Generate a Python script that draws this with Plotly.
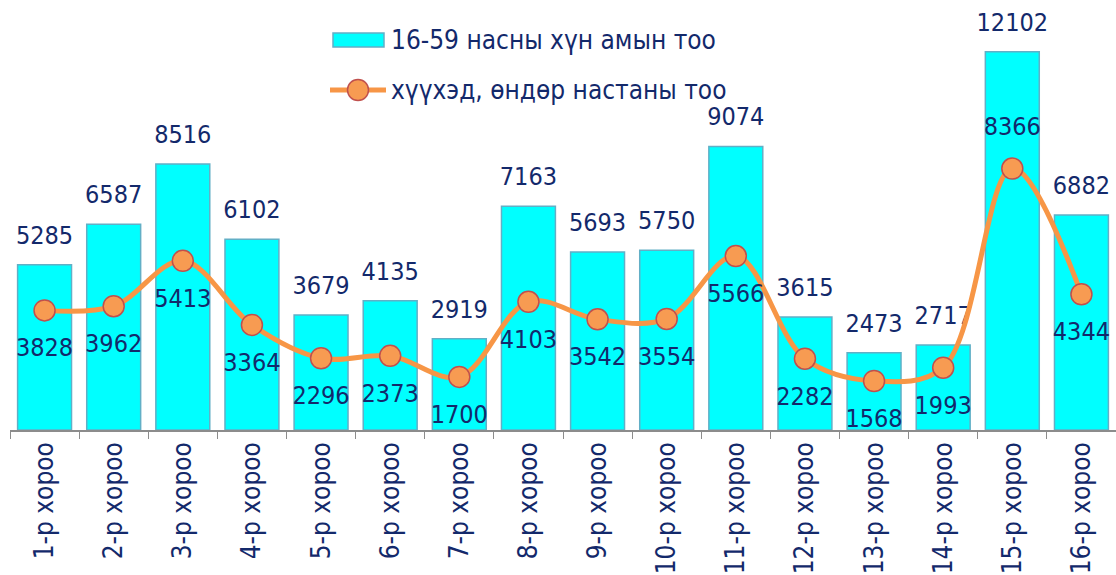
import plotly.graph_objects as go

categories = ["1-р хороо", "2-р хороо", "3-р хороо", "4-р хороо", "5-р хороо", "6-р хороо",
              "7-р хороо", "8-р хороо", "9-р хороо", "10-р хороо", "11-р хороо", "12-р хороо",
              "13-р хороо", "14-р хороо", "15-р хороо", "16-р хороо"]
working_age = [5285, 6587, 8516, 6102, 3679, 4135, 2919, 7163, 5693, 5750, 9074, 3615, 2473, 2717, 12102, 6882]
children_elderly = [3828, 3962, 5413, 3364, 2296, 2373, 1700, 4103, 3542, 3554, 5566, 2282, 1568, 1993, 8366, 4344]

bar_name = "16-59 насны хүн амын тоо"
line_name = "хүүхэд, өндөр настаны тоо"

FONT = "DejaVu Sans Condensed, DejaVu Sans, sans-serif"
TXT = "#13296B"
BAR_FILL = "#00FFFF"
BAR_EDGE = "#62AFC6"
LINE_C = "#F79646"
MK_FILL = "#F79B52"
MK_EDGE = "#C0504D"

W, H = 1116, 575
ML, MR, MT, MB = 10, 0, 0, 145
PW, PH = W - ML - MR, H - MT - MB

fig = go.Figure()
fig.add_trace(go.Bar(
    x=categories, y=working_age, name=bar_name,
    marker=dict(color=BAR_FILL, line=dict(color=BAR_EDGE, width=1.5)),
    showlegend=False,
))
fig.add_trace(go.Scatter(
    x=categories, y=working_age, mode="markers+text", text=[str(v) for v in working_age],
    textposition="top center", marker=dict(size=22, opacity=0),
    textfont=dict(family=FONT, size=25, color=TXT), showlegend=False, hoverinfo="skip",
    cliponaxis=False,
))
fig.add_trace(go.Scatter(
    x=categories, y=children_elderly, name=line_name, mode="lines+markers",
    line=dict(color=LINE_C, width=5, shape="spline", smoothing=1.0),
    marker=dict(size=21, color=MK_FILL, line=dict(color=MK_EDGE, width=1.5)),
    showlegend=False, cliponaxis=False,
))
top_idx = children_elderly.index(max(children_elderly))
line_pos = ["top center" if i == top_idx else "bottom center" for i in range(len(categories))]
fig.add_trace(go.Scatter(
    x=categories, y=children_elderly, mode="markers+text", text=[str(v) for v in children_elderly],
    textposition=line_pos, marker=dict(size=42, opacity=0),
    textfont=dict(family=FONT, size=25, color=TXT), showlegend=False, hoverinfo="skip",
    cliponaxis=False,
))

# manual legend (paper coordinates are relative to the plot area)
def px(x):
    return (x - ML) / PW

def py(y):
    return 1 - (y - MT) / PH

shapes = [
    dict(type="rect", xref="paper", yref="paper", x0=px(333), x1=px(384), y0=py(47), y1=py(33),
         fillcolor=BAR_FILL, line=dict(color=BAR_EDGE, width=1.5)),
    dict(type="line", xref="paper", yref="paper", x0=px(330), x1=px(386), y0=py(90), y1=py(90),
         line=dict(color=LINE_C, width=5)),
    dict(type="circle", xref="paper", yref="paper", x0=px(347.5), x1=px(368.5), y0=py(100.5), y1=py(79.5),
         fillcolor=MK_FILL, line=dict(color=MK_EDGE, width=1.5)),
]
annotations = [
    dict(text=bar_name, xref="paper", yref="paper", x=px(389), y=py(40), xanchor="left", yanchor="middle",
         showarrow=False, font=dict(family=FONT, size=26, color=TXT)),
    dict(text=line_name, xref="paper", yref="paper", x=px(389), y=py(90), xanchor="left", yanchor="middle",
         showarrow=False, font=dict(family=FONT, size=26, color=TXT)),
]

fig.update_layout(
    width=W, height=H,
    margin=dict(l=ML, r=MR, t=MT, b=MB, autoexpand=False),
    paper_bgcolor="white", plot_bgcolor="white",
    bargap=0.22,
    font=dict(family=FONT, size=24, color=TXT),
    showlegend=False,
    shapes=shapes, annotations=annotations,
)
fig.update_xaxes(
    range=[-0.5, len(categories) - 0.5],
    showline=True, linecolor="#8C8C8C", linewidth=1.5,
    ticks="outside", ticklen=7, tickcolor="#8C8C8C", tickson="boundaries",
    tickangle=-90, tickfont=dict(family=FONT, size=26, color=TXT),
    showgrid=False, automargin=False,
)
fig.update_yaxes(range=[0, 13760], visible=False, showgrid=False, automargin=False)

fig.write_html("out.html", config={"displayModeBar": False},
               post_script="document.body.style.margin='0';document.body.style.overflow='hidden';")
